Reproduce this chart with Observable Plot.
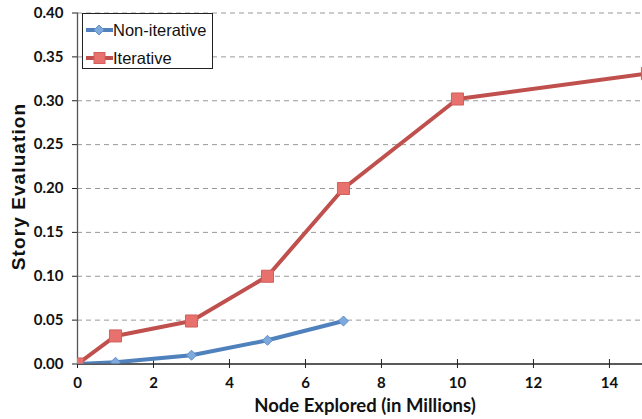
<!DOCTYPE html>
<html><head><meta charset="utf-8">
<script src="https://cdn.jsdelivr.net/npm/d3@7"></script>
<script src="https://cdn.jsdelivr.net/npm/@observablehq/plot@0.6"></script>
<style>
body{margin:0;background:#fff;}
#wrap{position:relative;width:642px;height:419px;}
#wrap svg text{font-weight:bold;}
#legend{position:absolute;left:82px;top:13px;width:131px;height:56px;border:1px solid #222;background:#fff;box-sizing:border-box;font-family:"Liberation Sans",Arial,sans-serif;font-size:16.5px;color:#111;}
.row{position:absolute;left:3px;display:flex;align-items:center;height:16px;}
.row span{line-height:16px;}
</style></head>
<body><div id="wrap"><div id="legend"></div></div>
<script>
const seriesNames = ["Non-iterative", "Iterative"];
const nonIterX = [0, 1, 3, 5, 7];
const nonIterY = [0, 0.002, 0.010, 0.027, 0.049];
const iterX = [0, 1, 3, 5, 7, 10, 15];
const iterY = [0, 0.032, 0.049, 0.100, 0.200, 0.302, 0.331];
const xTicks = [0, 2, 4, 6, 8, 10, 12, 14];
const yTicks = [0, 0.05, 0.10, 0.15, 0.20, 0.25, 0.30, 0.35, 0.40];

const colors = {line: ["#4f81bd", "#c0504d"], fill: ["#7ea9dd", "#e8716e"], stroke: ["#5f8fca", "#d0605c"]};

const nonIter = nonIterX.map((x, i) => ({x, y: nonIterY[i]}));
const iter = iterX.map((x, i) => ({x, y: iterY[i]}));

const chart = Plot.plot({
  width: 642, height: 419,
  marginLeft: 77, marginRight: 0, marginTop: 12.5, marginBottom: 55.5,
  style: {fontFamily: "Lato, 'Open Sans', sans-serif", fontSize: "15px", color: "#111", background: "#fff"},
  x: {domain: [0, 14.87]},
  y: {domain: [0, 0.40]},
  marks: [
    Plot.ruleY(yTicks.filter(d => d > 0), {stroke: "#999", strokeDasharray: "5,4", strokeWidth: 1}),
    Plot.axisY({ticks: yTicks, tickFormat: d3.format(".2f"), tickSize: 5, tickPadding: 9, label: null, stroke: "#222", fontSize: 15}),
    Plot.axisX({ticks: xTicks, tickSize: 9, dy: -4.5, text: null, label: null, stroke: "#222"}),
    Plot.axisX({ticks: xTicks, tickSize: 0, tickPadding: 13, label: null, fontSize: 15}),
    Plot.ruleX([0], {stroke: "#555", strokeWidth: 1.3}),
    Plot.ruleY([0], {stroke: "#222", strokeWidth: 1.3}),
    Plot.line(nonIter, {x: "x", y: "y", stroke: colors.line[0], strokeWidth: 4, clip: true}),
    Plot.line(iter, {x: "x", y: "y", stroke: colors.line[1], strokeWidth: 4, clip: true}),
    Plot.dot(nonIter, {x: "x", y: "y", symbol: "diamond2", r: 4.5, fill: colors.fill[0], stroke: colors.stroke[0], strokeWidth: 1, clip: true}),
    Plot.dot(iter, {x: "x", y: "y", symbol: "square", r: 6.8, fill: colors.fill[1], stroke: colors.stroke[1], strokeWidth: 1, clip: true}),
    Plot.text(["Node Explored (in Millions)"], {frameAnchor: "bottom", dx: 5, dy: 48, fontSize: 18.5, fill: "#111"}),
    Plot.text(["Story Evaluation"], {frameAnchor: "left", textAnchor: "middle", dx: -59, dy: -2, rotate: -90, fontSize: 19, fontFamily: "'Liberation Sans', Arial, sans-serif", fill: "#111"})
  ]
});
document.getElementById("wrap").prepend(chart);
d3.select(chart).selectAll("text").filter(function(){ return this.textContent === "Story Evaluation"; }).style("letter-spacing", "1.1px");

const legend = document.getElementById("legend");
seriesNames.forEach((name, i) => {
  const row = document.createElement("div");
  row.className = "row";
  row.style.top = (i === 0 ? 8 : 36) + "px";
  const marker = i === 0
    ? `<path d="M13,2 L18,7 L13,12 L8,7 Z" fill="${colors.fill[0]}" stroke="${colors.stroke[0]}"/>`
    : `<rect x="8" y="1.5" width="11" height="11" fill="${colors.fill[1]}" stroke="${colors.stroke[1]}"/>`;
  row.innerHTML = `<svg width="27" height="14"><line x1="0" y1="7" x2="27" y2="7" stroke="${colors.line[i]}" stroke-width="4"/>${marker}</svg><span>${name}</span>`;
  legend.appendChild(row);
});
</script></body></html>
